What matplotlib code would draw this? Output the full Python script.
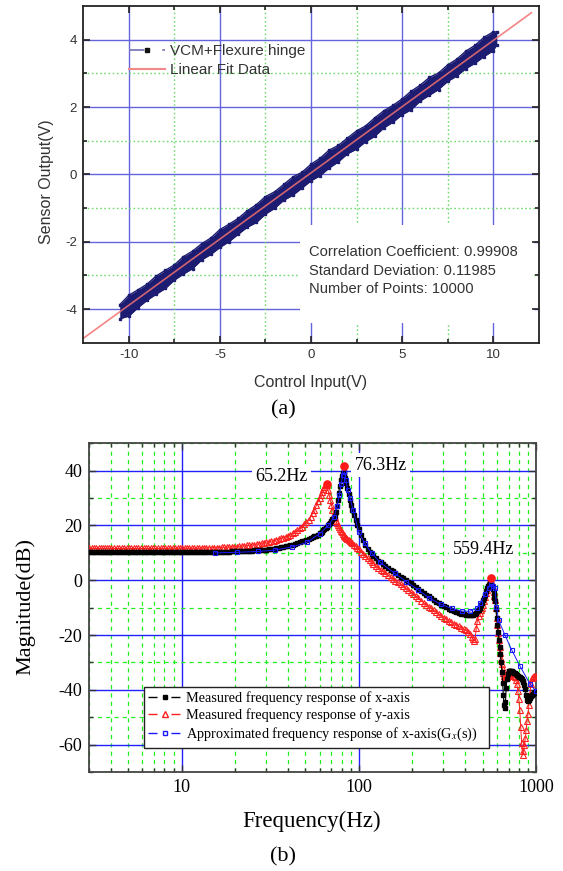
import matplotlib
matplotlib.use('Agg')
import matplotlib.pyplot as plt
from matplotlib.lines import Line2D
from matplotlib.patches import Rectangle
from matplotlib.ticker import MultipleLocator, FixedLocator, LogLocator, NullFormatter

plt.rcParams['axes.unicode_minus'] = False
plt.rcParams['lines.scale_dashes'] = False
plt.rcParams['mathtext.fontset'] = 'stix'

SANS = ['Liberation Sans', 'DejaVu Sans']
SERIF = ['Liberation Serif', 'DejaVu Serif']

# ---------------- (a) data ----------------
band_x = [-10.5, -10.0, -9.5, -9.0, -8.5, -8.0, -7.5, -7.0, -6.5, -6.0, -5.5, -5.0,
          -4.5, -4.0, -3.5, -3.0, -2.5, -2.0, -1.5, -1.0, -0.5, 0.0, 0.5, 1.0, 1.5,
          2.0, 2.5, 3.0, 3.5, 4.0, 4.5, 5.0, 5.5, 6.0, 6.5, 7.0, 7.5, 8.0, 8.5, 9.0,
          9.5, 10.0, 10.2]
band_hi = [-3.87, -3.59, -3.43, -3.26, -3.02, -2.85, -2.69, -2.44, -2.28, -2.06, -1.89,
           -1.64, -1.48, -1.31, -1.08, -0.90, -0.66, -0.52, -0.30, -0.08, 0.06, 0.30,
           0.48, 0.72, 0.86, 1.08, 1.29, 1.44, 1.68, 1.89, 2.05, 2.24, 2.47, 2.65, 2.88,
           3.01, 3.25, 3.42, 3.66, 3.83, 4.07, 4.23, 4.23]
band_lo = [-4.29, -4.21, -3.96, -3.74, -3.56, -3.39, -3.14, -2.96, -2.80, -2.54, -2.38,
           -2.17, -2.00, -1.78, -1.57, -1.43, -1.18, -1.01, -0.77, -0.62, -0.41, -0.19,
           -0.04, 0.19, 0.37, 0.61, 0.75, 0.97, 1.13, 1.38, 1.55, 1.77, 1.92, 2.18, 2.35,
           2.52, 2.76, 2.92, 3.14, 3.30, 3.50, 3.67, 3.85]
fit_x = [-12.5, 12.1]
fit_y = [-4.87, 4.80]
stats_text = ["Correlation Coefficient: 0.99908",
              "Standard Deviation: 0.11985",
              "Number of Points: 10000"]
legend_a = ["VCM+Flexure hinge", "Linear Fit Data"]
xticks_a = [-10, -5, 0, 5, 10]
xminor_a = [-7.5, -2.5, 2.5, 7.5]
yticks_a = [-4, -2, 0, 2, 4]
yminor_a = [-3, -1, 1, 3]

# ---------------- (b) data (measured, by frequency band) ----------------
f_seg1 = [3.0, 3.1, 3.2, 3.3, 3.4, 3.5, 3.6, 3.7, 3.8, 3.9, 4.0, 4.15, 4.3, 4.45, 4.6,
          4.75, 4.9, 5.05, 5.2, 5.35, 5.5, 5.7, 5.9, 6.1, 6.3, 6.5, 6.7, 6.9, 7.1, 7.35,
          7.6, 7.85, 8.1, 8.35, 8.6, 8.9, 9.2, 9.5, 9.8]
x_seg1 = [10.2, 10.2, 10.2, 10.2, 10.2, 10.2, 10.2, 10.2, 10.2, 10.2, 10.2, 10.2, 10.2,
          10.2, 10.2, 10.2, 10.2, 10.2, 10.2, 10.2, 10.2, 10.2, 10.2, 10.2, 10.2, 10.2,
          10.2, 10.2, 10.2, 10.2, 10.2, 10.2, 10.2, 10.2, 10.2, 10.2, 10.2, 10.2, 10.2]
y_seg1 = [11.6, 11.6, 11.6, 11.6, 11.6, 11.6, 11.6, 11.6, 11.6, 11.6, 11.6, 11.6, 11.6,
          11.6, 11.6, 11.6, 11.6, 11.6, 11.6, 11.6, 11.6, 11.6, 11.6, 11.6, 11.6, 11.6,
          11.6, 11.6, 11.6, 11.6, 11.6, 11.6, 11.6, 11.6, 11.7, 11.7, 11.7, 11.7, 11.7]

f_seg2 = [10.1, 10.4, 10.7, 11.0, 11.4, 11.8, 12.2, 12.6, 13.0, 13.4, 13.8, 14.3, 14.8,
          15.3, 15.8, 16.3, 16.8, 17.4, 18.0, 18.6, 19.2, 19.8, 20.5, 21.2, 21.9, 22.6,
          23.3, 24.1, 24.9, 25.7, 26.5, 27.4, 28.3, 29.2, 30.1, 31.1, 32.1, 33.1, 34.2,
          35.3, 36.4, 37.5, 38.7, 39.9, 41.1, 42.4, 43.7, 45.0, 46.4, 47.8, 49.2, 50.6,
          52.0, 53.4, 54.8, 56.2, 57.6, 59.0]
x_seg2 = [10.2, 10.2, 10.2, 10.2, 10.3, 10.3, 10.3, 10.3, 10.3, 10.3, 10.3, 10.3, 10.3,
          10.3, 10.3, 10.3, 10.4, 10.4, 10.4, 10.4, 10.5, 10.5, 10.5, 10.6, 10.6, 10.7,
          10.7, 10.8, 10.8, 10.9, 10.9, 11.0, 11.0, 11.1, 11.2, 11.3, 11.4, 11.5, 11.7,
          11.8, 12.0, 12.2, 12.4, 12.6, 12.8, 13.0, 13.3, 13.6, 13.9, 14.2, 14.5, 14.8,
          15.1, 15.4, 15.7, 16.0, 16.3, 16.7]
y_seg2 = [11.7, 11.7, 11.7, 11.7, 11.7, 11.7, 11.7, 11.7, 11.8, 11.8, 11.8, 11.8, 11.9,
          11.9, 11.9, 11.9, 12.0, 12.0, 12.1, 12.1, 12.2, 12.2, 12.3, 12.4, 12.5, 12.6,
          12.7, 12.8, 12.9, 13.0, 13.2, 13.3, 13.5, 13.7, 13.9, 14.1, 14.3, 14.5, 14.8,
          15.0, 15.3, 15.6, 15.9, 16.2, 16.6, 17.1, 17.6, 18.2, 18.9, 19.6, 20.4, 21.2,
          22.1, 23.2, 24.4, 25.8, 27.3, 29.0]

f_seg3 = [60, 61, 62, 63, 64, 65, 66, 67, 68, 69, 70, 71, 72, 73, 74, 75, 76, 77, 78, 79,
          80, 81, 82, 83, 84, 85, 86, 87.5, 89, 90.5, 92, 94, 96, 98]
x_seg3 = [17.1, 17.4, 17.8, 18.2, 18.6, 19.0, 19.5, 20.0, 20.5, 21.0, 21.6, 22.2, 22.8,
          23.5, 25.0, 27.0, 29.3, 32.0, 34.5, 36.5, 38.0, 39.0, 39.5, 38.8, 37.2, 35.5,
          33.8, 31.5, 29.3, 27.5, 25.8, 23.8, 22.0, 20.3]
y_seg3 = [30.0, 31.2, 32.4, 33.4, 34.2, 34.7, 34.6, 33.0, 31.2, 29.2, 27.5, 25.8, 24.3,
          23.0, 21.8, 20.8, 20.0, 19.3, 18.6, 18.0, 17.5, 17.0, 16.5, 16.2, 15.8, 15.5,
          15.2, 14.8, 14.3, 13.9, 13.5, 13.0, 12.5, 11.9]

f_seg4 = [100, 103, 106, 109, 112, 115, 118, 121, 125, 129, 133, 137, 141, 146, 151, 156,
          161, 166, 172, 178, 184, 190, 196, 203, 210, 217, 224, 232, 240, 248, 256, 265,
          274, 283, 292, 302, 312, 322, 333, 344, 355, 367, 379, 391, 403, 415, 425, 433,
          440, 447, 453]
x_seg4 = [18.8, 16.5, 14.6, 12.9, 11.5, 10.4, 9.6, 8.9, 8.0, 7.2, 6.5, 5.8, 5.2, 4.5, 3.8,
          3.2, 2.6, 2.0, 1.3, 0.7, 0.1, -0.5, -1.1, -1.8, -2.5, -3.2, -3.9, -4.6, -5.3,
          -5.9, -6.5, -7.2, -7.8, -8.4, -8.9, -9.4, -9.9, -10.4, -10.8, -11.2, -11.6,
          -11.9, -12.2, -12.4, -12.6, -12.7, -12.7, -12.7, -12.6, -12.4, -12.2]
y_seg4 = [11.3, 10.4, 9.6, 8.8, 8.0, 7.3, 6.6, 6.0, 5.2, 4.5, 3.8, 3.2, 2.6, 1.9, 1.2, 0.6,
          -0.1, -0.7, -1.4, -2.1, -2.8, -3.5, -4.2, -5.0, -5.8, -6.6, -7.4, -8.2, -8.9,
          -9.6, -10.3, -11.0, -11.7, -12.4, -13.0, -13.6, -14.2, -14.8, -15.3, -15.8,
          -16.3, -16.8, -17.3, -17.8, -18.3, -18.9, -19.6, -20.6, -21.5, -22.2, -21.5]

f_seg5 = [460, 467, 474, 481, 488, 495, 502, 509, 516, 523, 530, 536, 542, 548, 553, 558,
          564, 570, 576, 582, 588, 594, 600, 606, 612, 618, 624, 630, 636, 642, 648, 654,
          660, 666, 672, 678, 685, 692, 700, 708, 716, 724, 733, 742, 751, 760, 770, 780,
          790, 800, 810, 820, 830, 840, 850, 860, 870, 880, 890, 900, 912, 924, 936, 948,
          960, 972, 984, 1000]
x_seg5 = [-11.9, -11.4, -10.8, -10.1, -9.2, -8.3, -7.3, -6.3, -5.2, -4.1, -3.0, -2.2,
          -1.6, -1.1, -0.9, -1.0, -2.0, -3.3, -4.8, -6.3, -7.6, -10.5, -13.8, -16.3,
          -19.0, -21.8, -24.5, -27.0, -30.0, -33.5, -37.5, -42.0, -45.5, -46.8, -44.5,
          -39.5, -36.0, -34.2, -33.3, -33.0, -33.0, -33.1, -33.3, -33.5, -33.8, -34.0,
          -34.3, -34.6, -35.0, -35.2, -35.4, -35.8, -36.2, -36.7, -37.3, -38.2, -39.8,
          -42.0, -43.8, -44.2, -43.6, -43.0, -42.4, -41.9, -41.5, -41.2, -40.8, -40.3]
y_seg5 = [-17.5, -14.8, -13.2, -11.8, -10.8, -10.0, -9.0, -7.6, -6.2, -4.8, -3.4, -2.2,
          -1.2, -0.4, 0.0, -0.3, -1.2, -2.6, -4.2, -5.8, -7.2, -10.2, -13.6, -16.5,
          -19.2, -21.8, -24.2, -26.5, -28.6, -30.5, -32.3, -33.8, -34.8, -35.3, -35.5,
          -35.5, -35.3, -35.0, -34.6, -34.3, -34.1, -34.0, -34.0, -34.3, -34.8, -35.5,
          -36.5, -38.0, -40.5, -43.5, -47.5, -53.5, -59.5, -63.8, -62.5, -60.0, -57.5,
          -54.5, -51.5, -49.0, -45.5, -41.5, -38.0, -35.8, -35.2, -35.0, -35.3, -35.0]

freq_meas = f_seg1 + f_seg2 + f_seg3 + f_seg4 + f_seg5
mag_x = x_seg1 + x_seg2 + x_seg3 + x_seg4 + x_seg5
mag_y = y_seg1 + y_seg2 + y_seg3 + y_seg4 + y_seg5

freq_fit = [15.5, 20.5, 26.9, 33.5, 42.2, 50.9, 60.0, 67.3, 72.3, 75.5, 77.6, 79.5,
            81.2, 83.0, 84.5, 86.5, 89.2, 93.0, 100, 108, 118, 132, 160, 185, 216, 250,
            290, 335, 381, 424, 463, 485, 518, 540, 557, 575, 588, 598, 615, 668, 730,
            813, 922, 1000]
mag_fit = [10.0, 10.2, 10.5, 11.0, 12.2, 13.8, 17.0, 20.0, 23.0, 27.0, 31.0, 35.0, 38.5,
           39.5, 36.5, 33.0, 30.0, 25.5, 17.5, 13.5, 10.0, 6.5, 2.5, -0.5, -3.5, -6.5,
           -8.8, -10.3, -11.3, -11.3, -10.3, -8.3, -4.9, -2.8, -1.4, -2.0, -3.0, -9.7,
           -14.6, -20.0, -25.5, -31.4, -37.7, -40.5]
peak_freq = [66.4, 82.8, 557.0]
peak_mag = [35.3, 41.7, 0.9]
peak_labels = ["65.2Hz", "76.3Hz", "559.4Hz"]
label_freq = [36.7, 132.6, 505.0]
label_mag = [37.7, 42.0, 11.3]
legend_b = ["Measured frequency response of x-axis",
            "Measured frequency response of y-axis",
            "Approximated frequency response of x-axis(G$_x$(s))"]
xticks_b = [10, 100, 1000]
yticks_b = [-60, -40, -20, 0, 20, 40]

W, H = 563, 871
fig = plt.figure(figsize=(W / 100, H / 100), dpi=100)

# ======================= (a) =======================
ax1 = fig.add_axes([83.3 / W, 1 - 342.7 / H, (538.7 - 83.3) / W, (342.7 - 6) / H])
ax1.set_xlim(-12.5, 12.5)
ax1.set_ylim(-5, 5)
blue_a = '#6464dc'
green_a = '#70dc70'
for v in xticks_a:
    ax1.axvline(v, color=blue_a, lw=1.0, zorder=0.6)
for v in yticks_a:
    ax1.axhline(v, color=blue_a, lw=1.0, zorder=0.6)
for v in xminor_a:
    ax1.axvline(v, color=green_a, lw=1.0, ls=(0, (1.2, 1.8)), zorder=0.6)
for v in yminor_a:
    ax1.axhline(v, color=green_a, lw=1.0, ls=(0, (1.2, 1.8)), zorder=0.6)
ax1.add_patch(Rectangle((0.4754, 0.0576), 0.515, 0.2924, transform=ax1.transAxes,
                        facecolor='white', edgecolor='none', zorder=0.8))

navy = '#1c1c72'
ax1.fill_between(band_x, band_lo, band_hi, color=navy, lw=0, zorder=2)
ax1.plot(band_x, band_hi, color=navy, lw=1.0, zorder=2)
ax1.plot(band_x, band_lo, color=navy, lw=1.0, zorder=2)
ax1.plot(band_x, band_hi, 's', color=navy, ms=1.6, zorder=2)
ax1.plot(band_x, band_lo, 's', color=navy, ms=1.6, zorder=2)
ax1.plot(fit_x, fit_y, color='#f07070', lw=1.2, alpha=0.85, zorder=2.2)

ax1.set_xticks(xticks_a)
ax1.set_yticks(yticks_a)
ax1.xaxis.set_minor_locator(FixedLocator(xminor_a))
ax1.yaxis.set_minor_locator(FixedLocator(yminor_a))
ax1.tick_params(which='both', direction='in', top=True, right=True, color='#222222',
                width=1.2, labelsize=9.5, labelcolor='#333333', pad=4.5)
ax1.tick_params(which='major', length=5)
ax1.tick_params(which='minor', length=3)
for lab in ax1.get_xticklabels() + ax1.get_yticklabels():
    lab.set_family(SANS)
for sp in ax1.spines.values():
    sp.set_color('#222222')
    sp.set_linewidth(1.3)

tx = ax1.transAxes
for i, s in enumerate(stats_text):
    ax1.text(0.495, 0.268 - i * 0.054, s, transform=tx, fontsize=10.6, family=SANS,
             color='#333333', va='center', ha='left', zorder=3)

hA = Line2D([], [], color='#7c7cb8', lw=1.3, ls=(0, (11, 13)), marker='s', ms=2.2,
            mfc='#111111', mec='#111111')
hB = Line2D([], [], color='#f08a8a', lw=1.5)
leg1 = ax1.legend([hA, hB], legend_a, loc='upper left', bbox_to_anchor=(0.100, 0.886),
                  borderaxespad=0, borderpad=0, frameon=False, numpoints=1,
                  handlelength=2.35, handletextpad=0.35, labelspacing=0.3,
                  prop={'family': SANS, 'size': 11})
for t in leg1.get_texts():
    t.set_color('#333333')

fig.text(311 / W, 1 - 382 / H, 'Control Input(V)', fontsize=11.5, family=SANS,
         color='#333333', ha='center', va='center')
fig.text(46 / W, 1 - 181.5 / H, 'Sensor Output(V)', fontsize=11.5, family=SANS,
         color='#333333', ha='center', va='center', rotation=90)
fig.text(283 / W, 1 - 410 / H, '(a)', fontsize=16, family=SERIF, ha='center', va='center')

# ======================= (b) =======================
ax2 = fig.add_axes([89 / W, 1 - 772 / H, (536 - 89) / W, (772 - 443.3) / H])
ax2.set_xscale('log')
ax2.set_xlim(3, 1000)
ax2.set_ylim(-70, 50)
ax2.xaxis.set_major_locator(FixedLocator(xticks_b))
ax2.xaxis.set_minor_locator(LogLocator(base=10, subs=(2, 3, 4, 5, 6, 7, 8, 9)))
ax2.xaxis.set_minor_formatter(NullFormatter())
ax2.set_xticklabels([str(v) for v in xticks_b])
ax2.set_yticks(yticks_b)
ax2.set_yticklabels([str(v) for v in yticks_b])
ax2.yaxis.set_minor_locator(MultipleLocator(10))
ax2.set_axisbelow(True)
ax2.grid(which='major', color='#2020ff', lw=1.0, ls='-')
ax2.grid(which='minor', color='#22ee22', lw=0.9, ls=(0, (3, 3)))
ax2.tick_params(which='both', direction='in', top=True, right=True, color='#333333',
                width=1.0, labelsize=13, pad=5)
ax2.tick_params(which='major', length=5)
ax2.tick_params(which='minor', length=3)
for lab in ax2.get_xticklabels() + ax2.get_yticklabels():
    lab.set_family(SERIF)
for sp in ax2.spines.values():
    sp.set_color('#444444')
    sp.set_linewidth(1.3)

ax2.plot(freq_meas, mag_y, color='#ff2020', lw=0.7, marker='^', ms=4.6, mfc='none',
         mec='#ff2020', mew=0.8, zorder=4)
ax2.plot(freq_meas, mag_x, color='black', lw=0.8, marker='s', ms=2.7, mfc='black',
         mec='black', zorder=5)
ax2.plot(freq_fit, mag_fit, color='#1a1aff', lw=0.7, marker='s', ms=3.4, mfc='none',
         mec='#1a1aff', mew=0.8, zorder=6)
ax2.plot(peak_freq, peak_mag, 'o', color='#ff1a1a', ms=5.2, zorder=7)

for s, f, m in zip(peak_labels, label_freq, label_mag):
    ax2.text(f, m, s, fontsize=13, family=SERIF, ha='center', va='center', zorder=3.5,
             bbox=dict(facecolor='white', edgecolor='none', pad=2.5))

hx = Line2D([], [], color='black', lw=1.0, ls=(0, (6.5, 10)), marker='s', ms=2.8,
            mfc='black', mec='black')
hy = Line2D([], [], color='#ff2020', lw=1.0, ls=(0, (6.5, 10)), marker='^', ms=4.2,
            mfc='none', mec='#ff2020')
hf = Line2D([], [], color='#1a1aff', lw=1.0, ls=(0, (6.5, 10)), marker='s', ms=3.2,
            mfc='none', mec='#1a1aff')
leg2 = ax2.legend([hx, hy, hf], legend_b, loc='upper left',
                  bbox_to_anchor=(0.123, 0.076, 0.7725, 0.182), mode='expand',
                  borderaxespad=0, borderpad=0.3, numpoints=1, handlelength=2.35,
                  handletextpad=0.3, labelspacing=0.24, fancybox=False, framealpha=1,
                  edgecolor='#222222', prop={'family': SERIF, 'size': 10.3})
leg2.get_frame().set_linewidth(1.0)
leg2.set_zorder(10)

fig.text(312 / W, 1 - 821.7 / H, 'Frequency(Hz)', fontsize=16.5, family=SERIF,
         ha='center', va='center')
fig.text(26 / W, 1 - 606 / H, 'Magnitude(dB)', fontsize=16, family=SERIF,
         ha='center', va='center', rotation=90)
fig.text(283 / W, 1 - 857 / H, '(b)', fontsize=16, family=SERIF, ha='center', va='center')

fig.savefig('out.png', dpi=100)
